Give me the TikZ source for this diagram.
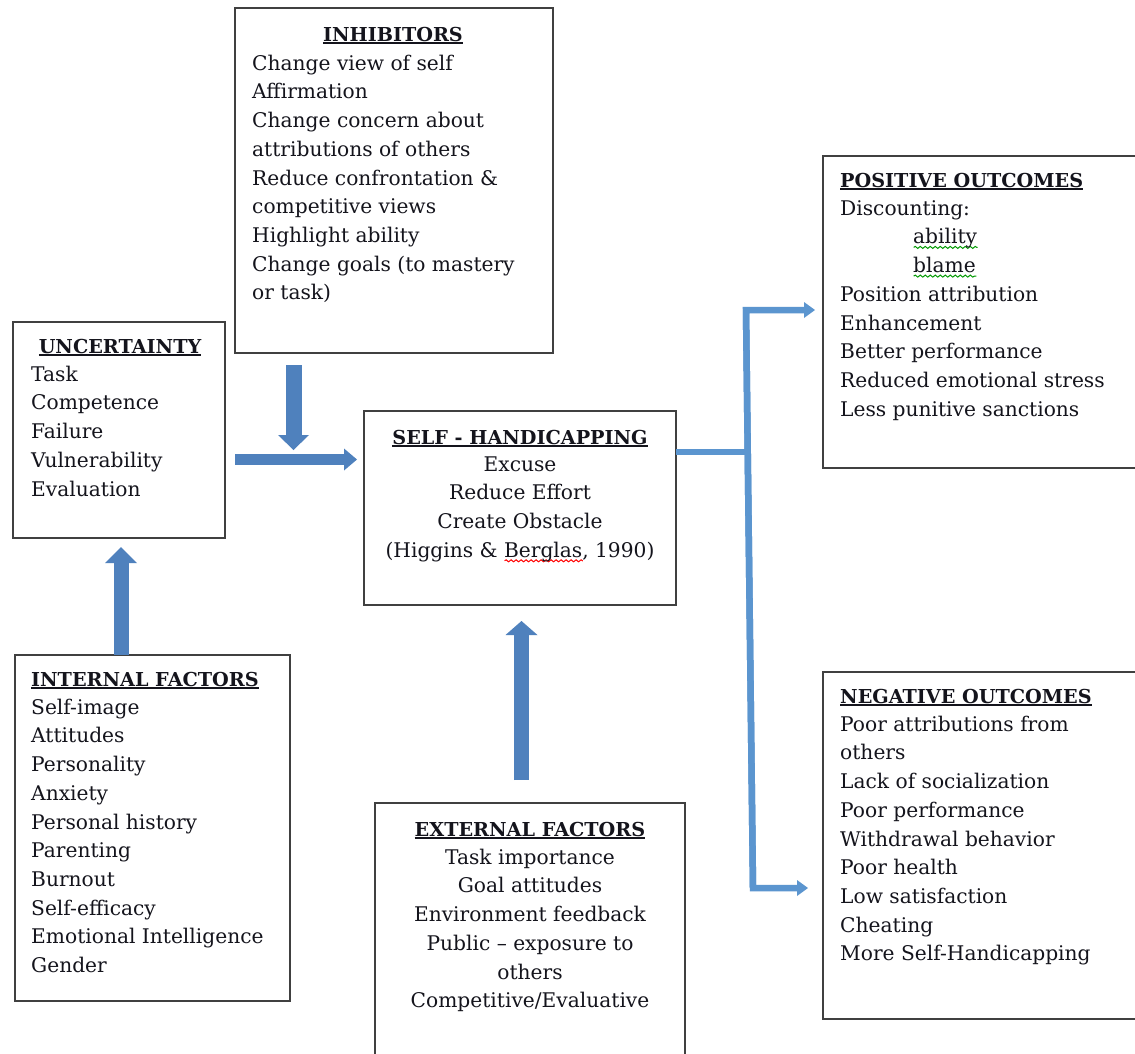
\documentclass[tikz,border=0pt]{standalone}
\usepackage{fontspec}
\setmainfont{DejaVu Serif}
\usetikzlibrary{arrows.meta,decorations.pathmorphing}
\definecolor{txt}{HTML}{14141C}
\definecolor{boxc}{HTML}{404040}
\definecolor{thickc}{HTML}{4F81BD}
\definecolor{thinc}{HTML}{5B95CF}
\newsavebox\hdbox
\newcommand\fsz{\fontsize{20.2}{28.7}\selectfont}
\newcommand\hsz{\fontsize{19.2}{28.7}\selectfont}
\newcommand\hd[1]{\sbox\hdbox{\bfseries #1}\rlap{\rule[-2.8pt]{\wd\hdbox}{1.6pt}}\usebox\hdbox}
\newcommand\wavy[2]{\sbox\hdbox{#2}\rlap{\raisebox{-5pt}{\tikz\draw[#1,line width=1pt,decorate,decoration={snake,amplitude=1pt,segment length=5pt}] (0pt,0pt) -- (\wd\hdbox,0pt);}}\usebox\hdbox}
\newcommand\fl{\rule{0pt}{20pt}}
\tikzset{
  box/.style={draw=boxc, line width=2.6pt, fill=white, inner sep=0pt, outer sep=0pt, rectangle},
  hdg/.style={inner sep=0pt, text=txt, font=\hsz},
  body/.style={inner sep=0pt, text=txt, font=\fsz, align=left},
  bodyc/.style={inner sep=0pt, text=txt, font=\fsz, align=center},
  bigarrow/.style={draw=thickc, line width=16pt, -{Triangle[length=15pt, width=31pt, line width=0pt]}},
  hzarrow/.style={draw=thickc, line width=11pt, -{Triangle[length=13pt, width=22pt, line width=0pt]}},
  thinline/.style={draw=thinc, line width=6.5pt, line join=miter},
  thinarrow/.style={thinline, -{Triangle[length=11pt, width=16pt, line width=0pt]}}
}
\begin{document}
\begin{tikzpicture}[x=1pt,y=-1pt]
\useasboundingbox (0,0) rectangle (1135,1053);
\fill[white] (0,0) rectangle (1135,1053);
\clip (0,0) rectangle (1135,1053);

% boxes
\node[box, anchor=north west, minimum width=318pt, minimum height=345pt] (inh) at (235,8) {};
\node[box, anchor=north west, minimum width=212pt, minimum height=216pt] (unc) at (13,322) {};
\node[box, anchor=north west, minimum width=275pt, minimum height=346pt] (int) at (15,655) {};
\node[box, anchor=north west, minimum width=312pt, minimum height=194pt] (sh) at (364,411) {};
\node[box, anchor=north west, minimum width=310pt, minimum height=300pt] (ext) at (375,803) {};
\node[box, anchor=north west, minimum width=330pt, minimum height=312pt] (pos) at (823,156) {};
\node[box, anchor=north west, minimum width=330pt, minimum height=347pt] (neg) at (823,672) {};

% INHIBITORS
\node[hdg, anchor=base] (inhH) at (393,41) {\hd{INHIBITORS}};
\node[body, anchor=north west] (inhB) at (252,50) {\fl Change view of self\\Affirmation\\Change concern about\\attributions of others\\Reduce confrontation \&\\competitive views\\Highlight ability\\Change goals (to mastery\\or task)};

% UNCERTAINTY
\node[hdg, anchor=base] (uncH) at (120,353) {\hd{UNCERTAINTY}};
\node[body, anchor=north west] (uncB) at (31,361) {\fl Task\\Competence\\Failure\\Vulnerability\\Evaluation};

% INTERNAL FACTORS
\node[hdg, anchor=base west] (intH) at (31,686) {\hd{INTERNAL FACTORS}};
\node[body, anchor=north west] (intB) at (31,694) {\fl Self-image\\Attitudes\\Personality\\Anxiety\\Personal history\\Parenting\\Burnout\\Self-efficacy\\Emotional Intelligence\\Gender};

% SELF-HANDICAPPING
\node[hdg, anchor=base] (shH) at (520,444) {\hd{SELF - HANDICAPPING}};
\node[bodyc, anchor=north] (shB) at (520,451) {\fl Excuse\\Reduce Effort\\Create Obstacle\\(Higgins \& \wavy{red}{Berglas}, 1990)};

% EXTERNAL FACTORS
\node[hdg, anchor=base] (extH) at (530,836) {\hd{EXTERNAL FACTORS}};
\node[bodyc, anchor=north] (extB) at (530,844) {\fl Task importance\\Goal attitudes\\Environment feedback\\Public -- exposure to\\others\\Competitive/Evaluative};

% POSITIVE OUTCOMES
\node[hdg, anchor=base west] (posH) at (840,187) {\hd{POSITIVE OUTCOMES}};
\node[body, anchor=north west] (posB) at (840,195) {\fl Discounting:\\\hspace*{73pt}\wavy{green!60!black}{ability}\\\hspace*{73pt}\wavy{green!60!black}{blame}\\Position attribution\\Enhancement\\Better performance\\Reduced emotional stress\\Less punitive sanctions};

% NEGATIVE OUTCOMES
\node[hdg, anchor=base west] (negH) at (840,703) {\hd{NEGATIVE OUTCOMES}};
\node[body, anchor=north west] (negB) at (840,711) {\fl Poor attributions from\\others\\Lack of socialization\\Poor performance\\Withdrawal behavior\\Poor health\\Low satisfaction\\Cheating\\More Self-Handicapping};

% thick arrows
\coordinate (dA) at (293.5,365);
\coordinate (dB) at (293.5,450);
\draw[bigarrow] (dA) -- (dB);
\coordinate (hA) at (235,459.5);
\coordinate (hB) at (357,459.5);
\draw[hzarrow] (hA) -- (hB);
\coordinate (uB) at (121,547);
\draw[bigarrow, line width=15pt, -{Triangle[length=16pt, width=32pt, line width=0pt]}] (int.north -| uB) -- (uB);
\coordinate (eA) at (521.5,780);
\coordinate (eB) at (521.5,621);
\draw[bigarrow, line width=15pt, -{Triangle[length=14pt, width=32pt, line width=0pt]}] (eA) -- (eB);

% thin connectors
\coordinate (vt) at (746,310);
\coordinate (vb) at (753,888);
\coordinate (jn) at (747.7,452);
\draw[thinline] (sh.east |- jn) -- (jn);
\draw[thinarrow, shorten >=8pt] (vb) -- (vt) -- (pos.west |- vt);
\draw[thinarrow, shorten >=15pt] (vt) -- (vb) -- (neg.west |- vb);
\end{tikzpicture}
\end{document}
